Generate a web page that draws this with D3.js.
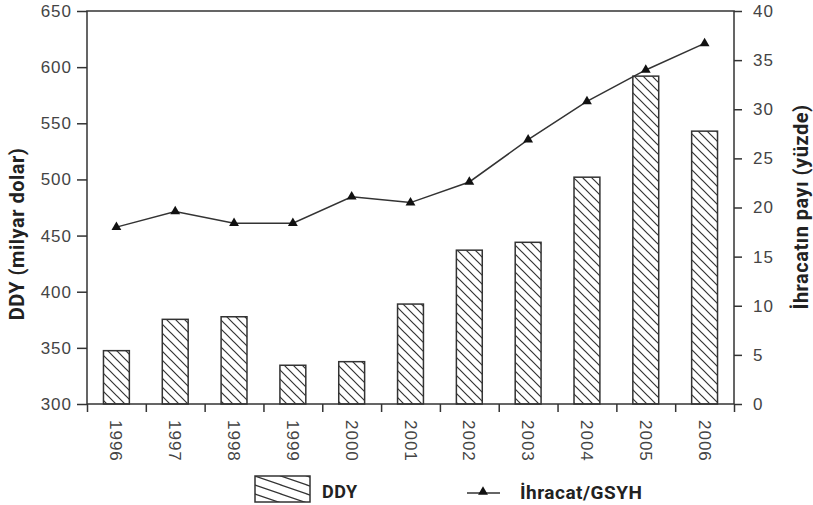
<!DOCTYPE html>
<html><head><meta charset="utf-8">
<script src="https://cdn.jsdelivr.net/npm/d3@7"></script>
<style>
body{margin:0;background:#fff}
.tick text{font-family:"Liberation Sans",Arial,sans-serif;font-size:17px;fill:#444;letter-spacing:1px}
.ttl{font-family:Roboto,"Open Sans",sans-serif;font-weight:700;font-size:19px;fill:#222;letter-spacing:0.5px}
</style>
</head><body><svg id="c" width="813" height="505"></svg>
<script>
const years = ["1996","1997","1998","1999","2000","2001","2002","2003","2004","2005","2006"];
const ddy = [347.5, 375.4, 377.7, 334.5, 337.7, 389, 437, 444, 502, 592, 543];
const exportShare = [18.0, 19.6, 18.4, 18.4, 21.1, 20.5, 22.6, 26.9, 30.8, 34.0, 36.7];
const leftTicks = [300, 350, 400, 450, 500, 550, 600, 650];
const rightTicks = [0, 5, 10, 15, 20, 25, 30, 35, 40];
const leftTitle = "DDY (milyar dolar)";
const rightTitle = "İhracatın payı (yüzde)";
const legendLabels = ["DDY", "İhracat/GSYH"];

const L = 87, R = 734, T = 11, B = 404;
const svg = d3.select("#c");
const ink = "#333";

const defs = svg.append("defs");
const pat = defs.append("pattern").attr("id","hatch").attr("patternUnits","userSpaceOnUse")
  .attr("width",9).attr("height",9);
pat.append("path").attr("d","M0,0L9,9M-2,7L2,11M7,-2L11,2").attr("stroke",ink).attr("stroke-width",1.2);
const pat2 = defs.append("pattern").attr("id","hatchL").attr("patternUnits","userSpaceOnUse")
  .attr("width",26).attr("height",9).attr("x",255).attr("y",476);
pat2.append("path").attr("d","M0,0L26,9M-26,0L26,18M0,-9L52,9").attr("stroke",ink).attr("stroke-width",1.2);

const x = d3.scaleBand().domain(years).range([L, R]).paddingInner(0.56).paddingOuter(0.28);
const xi = d3.scaleLinear().domain([0, years.length]).range([L, R]);
const yL = d3.scaleLinear().domain([300, 650]).range([B, T]);
const yR = d3.scaleLinear().domain([0, 40]).range([B, T]);

// bars
svg.append("g").selectAll("rect").data(years).join("rect")
  .attr("x", d => x(d)).attr("width", x.bandwidth())
  .attr("y", (d,i) => yL(ddy[i])).attr("height", (d,i) => B - yL(ddy[i]))
  .attr("fill","url(#hatch)").attr("stroke",ink).attr("stroke-width",1.5);

// frame
svg.append("rect").attr("x",L).attr("y",T).attr("width",R-L).attr("height",B-T)
  .attr("fill","none").attr("stroke",ink).attr("stroke-width",1.5);

// axes
const gl = svg.append("g").attr("transform",`translate(${L},0)`)
  .call(d3.axisLeft(yL).tickValues(leftTicks).tickSize(10).tickPadding(5));
const gr = svg.append("g").attr("transform",`translate(${R},0)`)
  .call(d3.axisRight(yR).tickValues(rightTicks).tickSize(8).tickPadding(11));
const gb = svg.append("g").attr("transform",`translate(0,${B})`)
  .call(d3.axisBottom(xi).tickValues(d3.range(years.length+1)).tickSize(8).tickFormat(""));
const gbl = svg.append("g").attr("transform",`translate(0,${B})`)
  .call(d3.axisBottom(x).tickSize(0));
gbl.selectAll("text").attr("transform","rotate(90)").attr("x",16).attr("y",0)
  .attr("dy","0.35em").style("text-anchor","start");
[gl,gr,gb,gbl].forEach(g => { g.select(".domain").remove(); g.selectAll("line").attr("stroke",ink).attr("stroke-width",1.5); });

// line
const cx = d => x(d) + x.bandwidth()/2;
svg.append("path").datum(years)
  .attr("d", d3.line().x(cx).y((d,i) => yR(exportShare[i])))
  .attr("fill","none").attr("stroke",ink).attr("stroke-width",1.5);
svg.append("g").selectAll("path").data(years).join("path")
  .attr("transform",(d,i) => `translate(${cx(d)},${yR(exportShare[i])})`)
  .attr("d", d3.symbol(d3.symbolTriangle).size(42)).attr("fill","#111");

// titles
svg.append("text").attr("class","ttl").attr("transform","translate(17,234) rotate(-90)")
  .attr("text-anchor","middle").attr("dy","0.35em").style("font-size","20px").text(leftTitle);
svg.append("text").attr("class","ttl").attr("transform","translate(801,207) rotate(-90)")
  .attr("text-anchor","middle").attr("dy","0.35em").style("font-size","20px").text(rightTitle);

// legend
svg.append("rect").attr("x",255).attr("y",476).attr("width",55).attr("height",26)
  .attr("fill","url(#hatchL)").attr("stroke",ink).attr("stroke-width",1.5);
svg.append("text").attr("class","ttl").attr("x",322).attr("y",492).attr("dy","0.35em")
  .style("font-size","18px").text(legendLabels[0]);
svg.append("line").attr("x1",467).attr("x2",500).attr("y1",493).attr("y2",493)
  .attr("stroke",ink).attr("stroke-width",1.5);
svg.append("path").attr("transform","translate(483,492)")
  .attr("d", d3.symbol(d3.symbolTriangle).size(42)).attr("fill","#111");
svg.append("text").attr("class","ttl").attr("x",520).attr("y",492).attr("dy","0.35em")
  .style("font-size","19px").text(legendLabels[1]);
</script>
</body></html>
